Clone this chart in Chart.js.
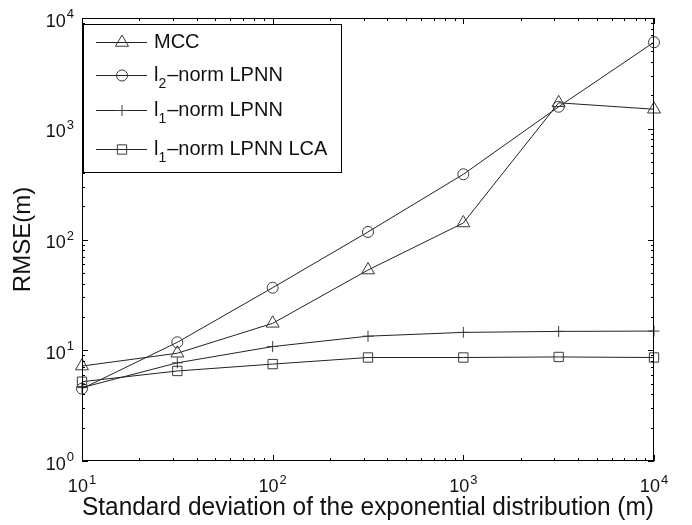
<html>
<head>
<script src="https://cdn.jsdelivr.net/npm/chart.js@4/dist/chart.umd.min.js"></script>
<style>
  body { margin: 0; background: #fff; }
</style>
</head>
<body>
<canvas id="rmse" width="692" height="525"></canvas>
<script>
// standard deviation of the exponential distribution (m)
var sigma = [10, 31.62, 100, 316.2, 1000, 3162, 10000];

var mcc   = [7.2, 9.4, 17.5, 53, 141, 1715, 1500];
var l2    = [4.5, 11.8, 36.7, 117, 388, 1580, 6040];
var l1    = [4.6, 7.7, 10.8, 13.4, 14.5, 14.8, 14.9];
var l1lca = [5.2, 6.5, 7.5, 8.6, 8.6, 8.7, 8.6];

var seriesNames = ['MCC', 'l_2\u2013norm LPNN', 'l_1\u2013norm LPNN', 'l_1\u2013norm LPNN LCA'];
var markers = ['triangle', 'circle', 'cross', 'rect'];
var markerSize = [7.5, 5.5, 5.5, 6.6];

var xTicks = [10, 100, 1000, 10000];
var yTicks = [1, 10, 100, 1000, 10000];

var FONT = "'Liberation Sans', Arial, Helvetica, sans-serif";
var LINE = '#222';
var MARK = '#3a3a3a';

function pts(ys){
	var out = [];
	for(var i = 0; i < sigma.length; i++)
		out.push({x: sigma[i], y: ys[i]});
	return out;
}

function series(idx, ys){
	return {
		label: seriesNames[idx],
		data: pts(ys),
		borderColor: LINE,
		borderWidth: 1,
		pointStyle: markers[idx],
		pointRadius: markerSize[idx],
		pointHoverRadius: markerSize[idx],
		pointBorderColor: MARK,
		pointBorderWidth: 1,
		pointBackgroundColor: 'rgba(0,0,0,0)',
		tension: 0,
		fill: false,
		clip: false
	};
}

// "10" with a raised exponent
function powWidth(ctx, exp){
	ctx.font = '18px ' + FONT;
	var a = ctx.measureText('10').width;
	ctx.font = '13px ' + FONT;
	return a + 1 + ctx.measureText(exp).width;
}
function drawPow(ctx, exp, x, baseline){
	ctx.font = '18px ' + FONT;
	ctx.fillText('10', x, baseline);
	var a = ctx.measureText('10').width;
	ctx.font = '13px ' + FONT;
	ctx.fillText(exp, x + a + 1, baseline - 8.5);
}

// legend label with one subscript char after "_"
function drawLabel(ctx, text, x, baseline){
	var k = text.indexOf('_');
	ctx.font = '20px ' + FONT;
	if(k < 0){
		ctx.fillText(text, x, baseline);
		return;
	}
	var head = text.slice(0, k), sub = text.charAt(k + 1), rest = text.slice(k + 2);
	ctx.fillText(head, x, baseline);
	x += ctx.measureText(head).width;
	ctx.font = '14px ' + FONT;
	ctx.fillText(sub, x, baseline + 7);
	x += ctx.measureText(sub).width + 1;
	ctx.font = '20px ' + FONT;
	ctx.fillText(rest, x, baseline);
}

var matlabAxes = {
	id: 'matlabAxes',
	afterDraw: function(chart){
		var ctx = chart.ctx, a = chart.chartArea;
		var sx = chart.scales.x, sy = chart.scales.y;
		ctx.save();
		ctx.strokeStyle = '#000';
		ctx.lineWidth = 1;

		// inward ticks on all four sides
		ctx.beginPath();
		for(var e = 1; e <= 4; e++){
			for(var k = 1; k <= 9; k++){
				var v = k * Math.pow(10, e);
				if(v > 10000) break;
				var len = (k === 1) ? 6 : 3;
				var p = Math.round(sx.getPixelForValue(v)) + 0.5;
				ctx.moveTo(p, a.bottom); ctx.lineTo(p, a.bottom - len);
				ctx.moveTo(p, a.top); ctx.lineTo(p, a.top + len);
			}
		}
		for(var e = 0; e <= 4; e++){
			for(var k = 1; k <= 9; k++){
				var v = k * Math.pow(10, e);
				if(v > 10000) break;
				var len = (k === 1) ? 6 : 3;
				var p = Math.round(sy.getPixelForValue(v)) + 0.5;
				ctx.moveTo(a.left, p); ctx.lineTo(a.left + len, p);
				ctx.moveTo(a.right, p); ctx.lineTo(a.right - len, p);
			}
		}
		ctx.stroke();
		ctx.strokeRect(a.left + 0.5, a.top + 0.5, a.right - a.left - 1, a.bottom - a.top - 1);

		// tick labels
		ctx.fillStyle = '#111';
		ctx.textBaseline = 'alphabetic';
		ctx.textAlign = 'left';
		xTicks.forEach(function(v){
			var exp = String(Math.round(Math.log10(v)));
			var w = powWidth(ctx, exp);
			drawPow(ctx, exp, sx.getPixelForValue(v) - w / 2, a.bottom + 31);
		});
		yTicks.forEach(function(v){
			var exp = String(Math.round(Math.log10(v)));
			var w = powWidth(ctx, exp);
			drawPow(ctx, exp, a.left - 8 - w, sy.getPixelForValue(v) + 8.5);
		});

		// legend box
		var bx = a.left + 1, by = a.top + 6, bw = 258, bh = 148;
		ctx.fillStyle = '#fff';
		ctx.fillRect(bx, by, bw, bh);
		ctx.strokeRect(bx + 0.5, by + 0.5, bw, bh);
		var rows = [42, 75, 110, 149];
		chart.data.datasets.forEach(function(ds, i){
			var y = rows[i] + 0.5;
			ctx.strokeStyle = LINE;
			ctx.beginPath();
			ctx.moveTo(bx + 13, y); ctx.lineTo(bx + 64, y);
			ctx.stroke();
			ctx.strokeStyle = MARK;
			ctx.fillStyle = 'rgba(0,0,0,0)';
			Chart.helpers.drawPoint(ctx, {pointStyle: ds.pointStyle, radius: ds.pointRadius, rotation: 0, borderWidth: 1}, bx + 39, y);
			ctx.fillStyle = '#111';
			drawLabel(ctx, ds.label, bx + 71, rows[i] + 5.5);
		});
		ctx.restore();
	}
};

new Chart(document.getElementById('rmse'), {
	type: 'line',
	data: {
		datasets: [
			series(0, mcc),
			series(1, l2),
			series(2, l1),
			series(3, l1lca)
		]
	},
	options: {
		responsive: false,
		animation: false,
		events: [],
		layout: { padding: { top: 18, right: 38, left: 0, bottom: 0 } },
		plugins: { legend: { display: false }, tooltip: { enabled: false } },
		scales: {
			x: {
				type: 'logarithmic',
				min: 10, max: 10000,
				grid: { display: false },
				border: { display: false },
				ticks: { display: false },
				title: {
					display: true,
					text: 'Standard deviation of the exponential distribution (m)',
					color: '#111',
					font: { size: 25, family: FONT },
					padding: { top: 0, bottom: 2 }
				},
				afterFit: function(s){ s.height = 64; }
			},
			y: {
				type: 'logarithmic',
				min: 1, max: 10000,
				grid: { display: false },
				border: { display: false },
				ticks: { display: false },
				title: {
					display: true,
					text: 'RMSE(m)',
					color: '#111',
					font: { size: 24, family: FONT },
					padding: { top: 9, bottom: 0 }
				},
				afterFit: function(s){ s.width = 82; }
			}
		}
	},
	plugins: [matlabAxes]
});
</script>
</body>
</html>
